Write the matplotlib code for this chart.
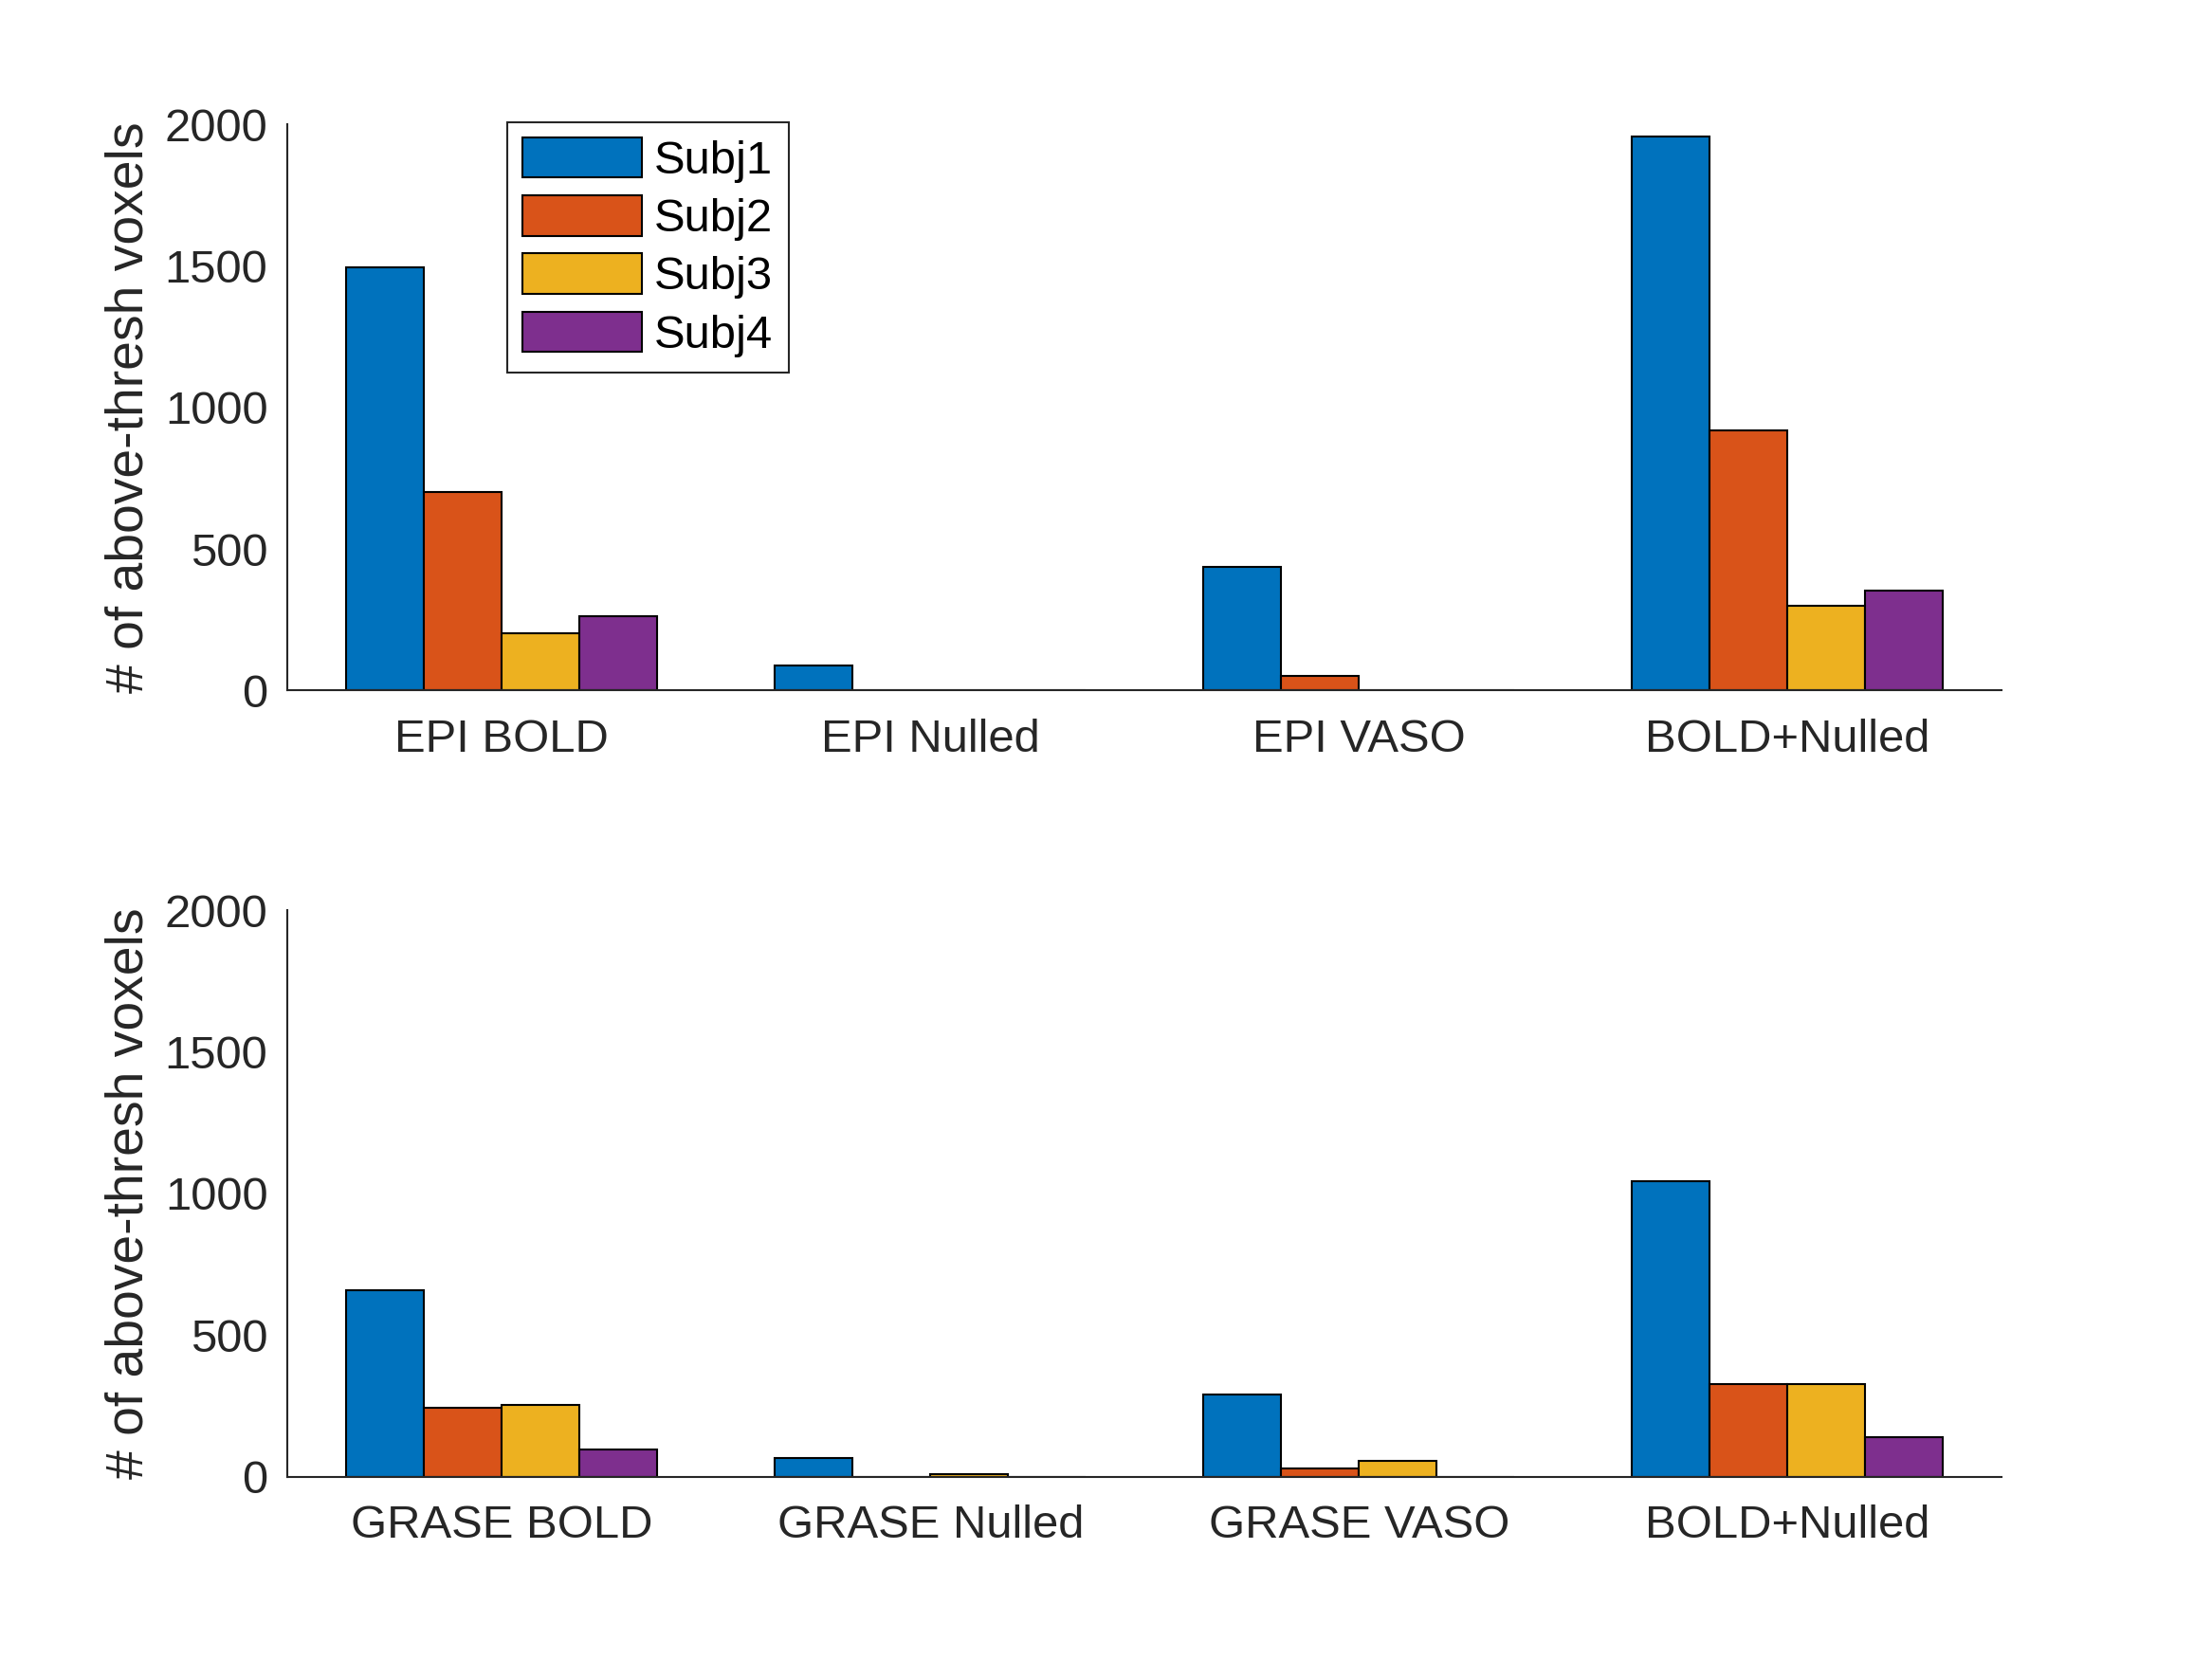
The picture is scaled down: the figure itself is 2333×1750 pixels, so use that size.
import matplotlib
matplotlib.use("Agg")
import matplotlib.pyplot as plt
import numpy as np

plt.rcParams['font.family'] = ['Liberation Sans', 'DejaVu Sans']

subjects = ["Subj1", "Subj2", "Subj3", "Subj4"]
colors = ["#0072BD", "#D95319", "#EDB120", "#7E2F8E"]

top_categories = ["EPI BOLD", "EPI Nulled", "EPI VASO", "BOLD+Nulled"]
top_subj1 = [1495, 89, 438, 1956]
top_subj2 = [700, 0, 52, 919]
top_subj3 = [202, 0, 0, 300]
top_subj4 = [263, 0, 0, 354]

bottom_categories = ["GRASE BOLD", "GRASE Nulled", "GRASE VASO", "BOLD+Nulled"]
bottom_subj1 = [659, 64, 291, 1045]
bottom_subj2 = [244, 0, 27, 328]
bottom_subj3 = [253, 7, 55, 328]
bottom_subj4 = [94, 0, 0, 138]

yticks = [0, 500, 1000, 1500, 2000]
ylabel = "# of above-thresh voxels"

FS = 23.5
FS_LABEL = 26.5
TXT = "#262626"

fig = plt.figure(figsize=(2333/150, 1750/150), dpi=150)
ax1 = fig.add_axes([0.1300, 0.5838, 0.7750, 0.3412])
ax2 = fig.add_axes([0.1300, 0.1100, 0.7750, 0.3412])

def draw(ax, cats, series):
    x = np.arange(1, len(cats) + 1)
    w = 0.1815
    handles = []
    for i, (vals, c, name) in enumerate(zip(series, colors, subjects)):
        h = ax.bar(x + (i - 1.5) * w, vals, width=w, color=c,
                   edgecolor="black", linewidth=1.0, label=name, zorder=2)
        handles.append(h)
    ax.set_xlim(0.5, 4.5)
    ax.set_ylim(0, 2000)
    ax.set_xticks(x)
    ax.set_xticklabels(cats)
    ax.set_yticks(yticks)
    ax.set_yticklabels([str(t) for t in yticks])
    ax.tick_params(axis='both', length=0, labelsize=FS, colors=TXT)
    ax.tick_params(axis='y', pad=10)
    ax.tick_params(axis='x', pad=14)
    for s in ["top", "right"]:
        ax.spines[s].set_visible(False)
    for s in ["left", "bottom"]:
        ax.spines[s].set_color(TXT)
        ax.spines[s].set_linewidth(1.0)
    ax.set_ylabel(ylabel, fontsize=FS_LABEL, color=TXT)
    ax.yaxis.set_label_coords(-0.078, 0.5)
    return handles

h = draw(ax1, top_categories, [top_subj1, top_subj2, top_subj3, top_subj4])
draw(ax2, bottom_categories, [bottom_subj1, bottom_subj2, bottom_subj3, bottom_subj4])

leg = ax1.legend(handles=h, labels=subjects, loc="upper left",
                 bbox_to_anchor=(0.2293, 0.9263), bbox_transform=fig.transFigure,
                 borderaxespad=0, fontsize=FS, fancybox=False, framealpha=1,
                 edgecolor="#262626", handlelength=2.57, handleheight=0.95,
                 handletextpad=0.27, labelspacing=0.27, borderpad=0.33)
leg.get_frame().set_linewidth(1.0)
for t in leg.get_texts():
    t.set_color("black")

fig.savefig("out.png", dpi=150, facecolor="white")
